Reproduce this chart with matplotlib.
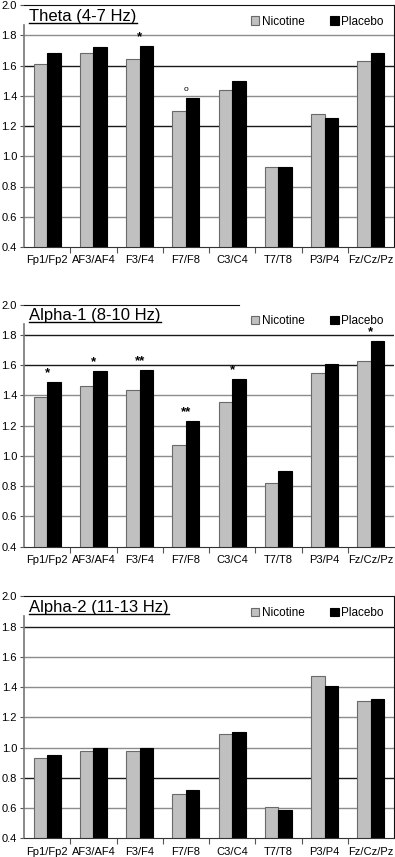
import numpy as np
import matplotlib
matplotlib.use('Agg')
import matplotlib.pyplot as plt
from matplotlib.lines import Line2D

plt.rcParams['font.family'] = ['Liberation Sans', 'DejaVu Sans']

sites = ['Fp1/Fp2', 'AF3/AF4', 'F3/F4', 'F7/F8', 'C3/C4', 'T7/T8', 'P3/P4', 'Fz/Cz/Pz']
series_names = ['Nicotine', 'Placebo']
yticks = [0.4, 0.6, 0.8, 1.0, 1.2, 1.4, 1.6, 1.8, 2.0]

titles = ['Theta (4-7 Hz)', 'Alpha-1 (8-10 Hz)', 'Alpha-2 (11-13 Hz)']

theta_nic = [1.61, 1.68, 1.64, 1.30, 1.44, 0.93, 1.28, 1.63]
theta_plac = [1.68, 1.725, 1.73, 1.385, 1.50, 0.93, 1.25, 1.68]
theta_sig = ['', '', '*', 'o', '', '', '', '']

alpha1_nic = [1.39, 1.46, 1.435, 1.07, 1.36, 0.82, 1.55, 1.63]
alpha1_plac = [1.49, 1.56, 1.565, 1.23, 1.51, 0.90, 1.61, 1.76]
alpha1_sig = ['*', '*', '**', '**', '*', '', '', '*']

alpha2_nic = [0.93, 0.98, 0.98, 0.69, 1.09, 0.61, 1.47, 1.31]
alpha2_plac = [0.95, 1.00, 1.00, 0.72, 1.10, 0.59, 1.41, 1.32]
alpha2_sig = ['', '', '', '', '', '', '', '']

panels = [
    (titles[0], theta_nic, theta_plac, theta_sig, [1.2, 1.6], True),
    (titles[1], alpha1_nic, alpha1_plac, alpha1_sig, [1.6, 1.8], False),
    (titles[2], alpha2_nic, alpha2_plac, alpha2_sig, [0.8, 1.8], True),
]

W, H = 395, 857
fig = plt.figure(figsize=(W / 100, H / 100), dpi=100)
bottoms = [610, 310.3, 18.7]
x = np.arange(len(sites))
bw = 0.29

for (title, nic, plac, sig, dark, boxed), b in zip(panels, bottoms):
    ax = fig.add_axes([24 / W, b / H, 370 / W, 242 / H])
    ax.set_xlim(-0.5, len(sites) - 0.5)
    ax.set_ylim(0.4, 2.0)

    for yv in yticks[1:-1]:
        col = '#1a1a1a' if yv in dark else '#8c8c8c'
        ax.axhline(yv, color=col, lw=1.0, zorder=0)

    ax.bar(x - bw / 2, nic, bw, color='#c0c0c0', edgecolor='#6a6a6a', lw=0.8,
           label=series_names[0], zorder=2)
    ax.bar(x + bw / 2, plac, bw, color='black', edgecolor='black', lw=0.8,
           label=series_names[1], zorder=2)

    for i, s in enumerate(sig):
        if s:
            top = max(nic[i], plac[i])
            if s == 'o':
                ax.text(x[i], top + 0.035, s, ha='center', va='bottom', fontsize=6, zorder=4)
            else:
                ax.text(x[i], top + 0.02, s, ha='center', va='bottom', fontsize=9.5,
                        fontweight='bold', zorder=4)

    ax.set_xticks(x)
    ax.set_xticklabels(sites, fontsize=8)
    ax.set_xticks(np.arange(0.5, len(sites) - 0.5, 1), minor=True)
    ax.tick_params(axis='x', which='major', length=0, pad=6)
    ax.tick_params(axis='x', which='minor', length=4, width=0.8, color='#555555')
    ax.set_yticks(yticks)
    ax.set_yticklabels([f'{v:.1f}' for v in yticks], fontsize=8)
    ax.tick_params(axis='y', length=3, width=0.8, color='#555555', pad=2)

    ax.spines['left'].set_color('#777777')
    ax.spines['left'].set_linewidth(1.2)
    ax.spines['left'].set_bounds(0.4, 1.87)
    ax.spines['bottom'].set_color('#333333')
    ax.spines['top'].set_color('#111111')
    ax.spines['right'].set_color('#111111')
    if not boxed:
        ax.spines['right'].set_visible(False)
        ax.spines['top'].set_bounds(-0.5, 4.15)

    t = ax.text(0.014, 0.985, title, transform=ax.transAxes, ha='left', va='top',
                fontsize=12, zorder=5)
    fig.canvas.draw()
    bb = t.get_window_extent().transformed(fig.transFigure.inverted())
    fig.add_artist(Line2D([bb.x0, bb.x1], [bb.y0 + 0.001, bb.y0 + 0.001], color='black', lw=1.0))

    ax.legend(loc='upper right', ncol=2, frameon=False, fontsize=8.5,
              handlelength=0.7, handleheight=0.7, handletextpad=0.2,
              columnspacing=2.2, borderaxespad=0.5)

fig.savefig('out.png', dpi=100)
